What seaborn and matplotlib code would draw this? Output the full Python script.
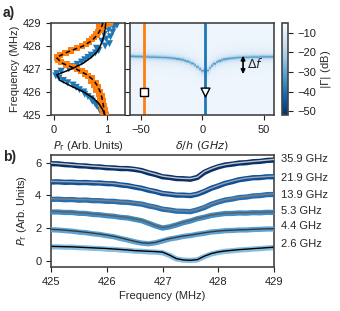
import numpy as np
import pandas as pd
import matplotlib
matplotlib.use("Agg")
import matplotlib.pyplot as plt
import seaborn as sns

# ---------------- data: panel a (left) ----------------
freq_a = [425.0, 425.1, 425.2, 425.3, 425.4, 425.5, 425.6, 425.7, 425.8, 425.9,
          426.0, 426.1, 426.2, 426.3, 426.4, 426.5, 426.6, 426.7, 426.8, 426.9,
          427.0, 427.1, 427.2, 427.3, 427.4, 427.5, 427.6, 427.7, 427.8, 427.9,
          428.0, 428.1, 428.2, 428.3, 428.4, 428.5, 428.6, 428.7, 428.8, 428.9, 429.0]
orange_data = [0.97, 0.93, 0.96, 0.90, 0.94, 0.88, 0.91, 0.86, 0.89, 0.84,
               0.86, 0.80, 0.83, 0.76, 0.78, 0.70, 0.72, 0.64, 0.58, 0.52,
               0.44, 0.36, 0.24, 0.14, 0.08, 0.07, 0.12, 0.22, 0.33, 0.44,
               0.53, 0.60, 0.66, 0.72, 0.75, 0.80, 0.82, 0.88, 0.85, 0.95, 1.05]
blue_data = [0.96, 0.90, 0.86, 0.88, 0.80, 0.77, 0.72, 0.70, 0.64, 0.58,
             0.56, 0.48, 0.42, 0.36, 0.26, 0.18, 0.10, 0.04, 0.06, 0.14,
             0.28, 0.36, 0.44, 0.52, 0.58, 0.64, 0.70, 0.78, 0.84, 0.80,
             0.96, 1.04, 0.90, 0.98, 1.06, 0.94, 1.10, 1.02, 1.12, 1.18, 1.08]

freq_fit = [425.0, 425.25, 425.5, 425.75, 426.0, 426.25, 426.5, 426.75, 427.0,
            427.25, 427.5, 427.75, 428.0, 428.25, 428.5, 428.75, 429.0]
orange_fit = [0.95, 0.94, 0.92, 0.90, 0.87, 0.82, 0.75, 0.62, 0.42,
              0.16, 0.05, 0.27, 0.55, 0.72, 0.82, 0.88, 0.92]
blue_fit = [0.95, 0.91, 0.84, 0.73, 0.56, 0.33, 0.12, 0.06, 0.33,
            0.55, 0.70, 0.81, 0.87, 0.91, 0.94, 0.96, 0.97]

# ---------------- data: panel a (map) ----------------
detuning = np.arange(-58, 59, 2)
f_res = [427.55, 427.55, 427.54, 427.54, 427.54, 427.53, 427.53, 427.53, 427.52, 427.52,
         427.52, 427.51, 427.51, 427.50,
         427.50, 427.49, 427.48, 427.47, 427.46, 427.44, 427.42, 427.40, 427.37, 427.33,
         427.29, 427.24, 427.17, 427.09, 427.00, 426.92, 426.86, 426.93, 427.05, 427.15,
         427.23, 427.30, 427.35, 427.39, 427.42, 427.44, 427.46, 427.47, 427.48, 427.49,
         427.50,
         427.50, 427.51, 427.51, 427.51, 427.52, 427.52, 427.52, 427.52, 427.53, 427.53,
         427.53, 427.53, 427.53, 427.53]
bg_db = -7.0
line_depth_db = 22.0
line_width_mhz = 0.06
orange_det = -47
blue_det = 2.4
marker_freq = 426.0

# ---------------- data: panel b ----------------
freq_b = [425.0, 425.125, 425.25, 425.375, 425.5, 425.625, 425.75, 425.875,
          426.0, 426.125, 426.25, 426.375, 426.5, 426.625, 426.75, 426.875,
          427.0, 427.125, 427.25, 427.375, 427.5, 427.625, 427.75, 427.875,
          428.0, 428.125, 428.25, 428.375, 428.5, 428.625, 428.75, 428.875, 429.0]
drive_labels = ["2.6 GHz", "4.4 GHz", "5.3 GHz", "13.9 GHz", "21.9 GHz", "35.9 GHz"]
data_26 = [0.86, 0.86, 0.84, 0.84, 0.81, 0.80, 0.77, 0.76, 0.72, 0.71, 0.67, 0.65, 0.60, 0.59, 0.55, 0.54, 0.50,
           0.34, 0.12, 0.05, 0.03, 0.07, 0.26, 0.43, 0.52, 0.59, 0.62, 0.67, 0.69, 0.73, 0.75, 0.79, 0.81]
data_44 = [1.90, 1.89, 1.85, 1.82, 1.76, 1.73, 1.66, 1.62, 1.54, 1.48, 1.37, 1.28, 1.17, 1.09, 1.05, 1.11, 1.22,
           1.34, 1.41, 1.50, 1.55, 1.63, 1.69, 1.77, 1.80, 1.85, 1.86, 1.89, 1.89, 1.92, 1.93, 1.95, 1.95]
data_53 = [2.99, 2.99, 2.96, 2.96, 2.91, 2.90, 2.84, 2.82, 2.76, 2.73, 2.66, 2.63, 2.54, 2.46, 2.30, 2.14, 2.01,
           2.08, 2.20, 2.34, 2.44, 2.58, 2.67, 2.78, 2.84, 2.90, 2.90, 2.93, 2.92, 2.95, 2.94, 2.97, 2.96]
data_139 = [3.76, 3.77, 3.74, 3.75, 3.71, 3.72, 3.68, 3.68, 3.64, 3.64, 3.59, 3.58, 3.52, 3.47, 3.36, 3.28, 3.16,
            3.11, 3.04, 3.03, 3.01, 3.12, 3.26, 3.46, 3.60, 3.72, 3.78, 3.87, 3.90, 3.97, 3.99, 4.05, 4.06]
data_219 = [4.82, 4.83, 4.80, 4.81, 4.78, 4.79, 4.76, 4.76, 4.72, 4.71, 4.64, 4.60, 4.51, 4.44, 4.32, 4.24, 4.12,
            4.08, 4.02, 4.02, 3.99, 4.08, 4.24, 4.44, 4.58, 4.74, 4.84, 4.96, 5.02, 5.08, 5.09, 5.14, 5.14]
data_359 = [5.94, 5.93, 5.88, 5.86, 5.81, 5.80, 5.75, 5.74, 5.69, 5.68, 5.64, 5.64, 5.59, 5.52, 5.38, 5.28, 5.14,
            5.10, 5.03, 5.02, 4.99, 5.10, 5.41, 5.60, 5.75, 5.86, 5.91, 5.98, 6.00, 6.06, 6.08, 6.14, 6.16]
fit_26 = [0.89, 0.88, 0.87, 0.86, 0.84, 0.82, 0.80, 0.78, 0.76, 0.73, 0.70, 0.67, 0.63, 0.61, 0.59, 0.57, 0.54,
          0.36, 0.14, 0.06, 0.04, 0.08, 0.29, 0.45, 0.55, 0.61, 0.65, 0.69, 0.72, 0.75, 0.78, 0.81, 0.84]
fit_44 = [1.93, 1.91, 1.88, 1.84, 1.80, 1.75, 1.70, 1.64, 1.58, 1.50, 1.41, 1.30, 1.20, 1.11, 1.08, 1.13, 1.26,
          1.36, 1.45, 1.52, 1.58, 1.65, 1.72, 1.78, 1.83, 1.86, 1.88, 1.90, 1.91, 1.93, 1.95, 1.96, 1.97]
fit_53 = [3.03, 3.02, 3.00, 2.98, 2.95, 2.92, 2.88, 2.84, 2.80, 2.75, 2.70, 2.65, 2.58, 2.48, 2.34, 2.16, 2.04,
          2.10, 2.24, 2.36, 2.48, 2.60, 2.71, 2.80, 2.87, 2.91, 2.93, 2.94, 2.95, 2.96, 2.97, 2.98, 2.99]
fit_139 = [3.80, 3.79, 3.78, 3.77, 3.75, 3.74, 3.72, 3.70, 3.68, 3.66, 3.63, 3.60, 3.56, 3.49, 3.40, 3.30, 3.20,
           3.13, 3.08, 3.05, 3.05, 3.14, 3.30, 3.48, 3.64, 3.74, 3.82, 3.89, 3.94, 3.99, 4.03, 4.07, 4.10]
fit_219 = [4.86, 4.85, 4.84, 4.83, 4.82, 4.81, 4.80, 4.78, 4.76, 4.73, 4.68, 4.62, 4.55, 4.46, 4.36, 4.26, 4.16,
           4.10, 4.06, 4.04, 4.03, 4.10, 4.28, 4.46, 4.62, 4.76, 4.88, 4.98, 5.06, 5.10, 5.13, 5.16, 5.18]
fit_359 = [5.98, 5.95, 5.92, 5.88, 5.85, 5.82, 5.79, 5.76, 5.73, 5.70, 5.68, 5.66, 5.63, 5.54, 5.42, 5.30, 5.18,
           5.12, 5.07, 5.04, 5.03, 5.12, 5.45, 5.64, 5.79, 5.88, 5.95, 6.00, 6.04, 6.08, 6.12, 6.16, 6.20]
label_y = [1.04, 2.13, 3.07, 4.02, 5.08, 6.22]

data_b = [data_26, data_44, data_53, data_139, data_219, data_359]
fit_b = [fit_26, fit_44, fit_53, fit_139, fit_219, fit_359]
data_colors = ["#86bde0", "#5ca3d4", "#3f8cc6", "#2570b4", "#0d519c", "#08306b"]
fit_colors = ["#000000", "#3a3a3a", "#5e5e5e", "#808080", "#a2a2a2", "#c4c4c4"]

# ---------------- style ----------------
sns.set_style("ticks")
plt.rcParams["font.family"] = ["Liberation Sans", "DejaVu Sans"]
plt.rcParams["font.size"] = 8
plt.rcParams["axes.edgecolor"] = "#444444"
plt.rcParams["axes.linewidth"] = 1.2
plt.rcParams["xtick.major.size"] = 3.5
plt.rcParams["ytick.major.size"] = 3.5
plt.rcParams["xtick.color"] = "#222222"
plt.rcParams["ytick.color"] = "#222222"
plt.rcParams["mathtext.fontset"] = "dejavusans"

W, H = 340, 311
fig = plt.figure(figsize=(W / 100, H / 100), dpi=100)

def rect(x0, y0, x1, y1):
    return [x0 / W, 1 - y1 / H, (x1 - x0) / W, (y1 - y0) / H]

ax1 = fig.add_axes(rect(51, 23, 125, 115))
ax2 = fig.add_axes(rect(130, 23, 274, 115))
cax = fig.add_axes(rect(282, 23, 288, 115))
axb = fig.add_axes(rect(51, 155, 274, 267))

# ---- panel a left ----
dfa = pd.DataFrame({"f": freq_a, "orange": orange_data, "blue": blue_data})
dff = pd.DataFrame({"f": freq_fit, "orange": orange_fit, "blue": blue_fit})
sns.scatterplot(data=dfa, x="blue", y="f", ax=ax1, marker="v", s=26, color="#1f77b4",
                edgecolor="none", zorder=2)
sns.scatterplot(data=dfa, x="orange", y="f", ax=ax1, marker="s", s=20, color="#ff7f0e",
                edgecolor="none", zorder=3)
ax1.plot(dff["blue"], dff["f"], color="black", lw=1.1, zorder=4)
ax1.plot(dff["orange"], dff["f"], color="black", lw=1.1, ls=(0, (3, 2)), zorder=4)
ax1.set_xlim(-0.05, 1.33)
ax1.set_ylim(425, 429)
ax1.set_xticks([0, 1])
ax1.set_yticks([425, 426, 427, 428, 429])
ax1.set_xlabel(r"$P_\mathrm{r}$ (Arb. Units)", labelpad=3)
ax1.set_ylabel("Frequency (MHz)", labelpad=2)

# ---- panel a map ----
fgrid = np.linspace(425, 429, 241)
Z = np.empty((len(fgrid), len(detuning)))
for j, fr in enumerate(f_res):
    d = (fgrid - fr) / line_width_mhz
    halo = (fgrid - fr) / 0.25
    Z[:, j] = bg_db - line_depth_db / (1 + d ** 2) - 3.0 / (1 + halo ** 2)
xe = np.concatenate([detuning - 1, [detuning[-1] + 1]])
fe = np.concatenate([fgrid - 0.00833, [fgrid[-1] + 0.00833]])
mesh = ax2.pcolormesh(xe, fe, Z, cmap="Blues_r", vmin=-52, vmax=-5, shading="flat",
                      rasterized=True)
ax2.axvline(orange_det, color="#ff7f0e", lw=2)
ax2.axvline(blue_det, color="#1f77b4", lw=2)
ax2.scatter([orange_det], [marker_freq], marker="s", s=30, facecolor="white",
            edgecolor="black", lw=1, zorder=5)
ax2.scatter([blue_det], [marker_freq], marker="v", s=40, facecolor="white",
            edgecolor="black", lw=1, zorder=5)
ax2.annotate("", xy=(33, 426.78), xytext=(33, 427.58),
             arrowprops=dict(arrowstyle="<|-|>", color="black", lw=1.2,
                             mutation_scale=6, shrinkA=0, shrinkB=0))
ax2.text(36, 427.2, r"$\Delta f$", fontsize=9, va="center", ha="left")
ax2.set_xlim(-58.7, 58.1)
ax2.set_ylim(425, 429)
ax2.set_xticks([-50, 0, 50])
ax2.set_yticks([425, 426, 427, 428, 429])
ax2.set_yticklabels([])
ax2.set_xlabel(r"$\delta/h\ (GHz)$", labelpad=3)
cb = fig.colorbar(mesh, cax=cax, ticks=[-10, -20, -30, -40, -50])
cb.outline.set_edgecolor("#444444")
cb.outline.set_linewidth(1.2)
cb.set_label(r"$|\Gamma|$ (dB)", labelpad=2)

# ---- panel b ----
for k in range(len(drive_labels)):
    dfb = pd.DataFrame({"f": freq_b, "data": data_b[k], "fit": fit_b[k]})
    sns.lineplot(data=dfb, x="f", y="data", ax=axb, color=data_colors[k], lw=3.8,
                 zorder=2 + k)
    sns.lineplot(data=dfb, x="f", y="fit", ax=axb, color=fit_colors[k], lw=1.0,
                 zorder=2.5 + k)
    axb.text(429.12, label_y[k], drive_labels[k], ha="left", va="center",
             fontsize=8, clip_on=False)
axb.set_xlim(425, 429)
axb.set_ylim(-0.37, 6.47)
axb.set_xticks([425, 426, 427, 428, 429])
axb.set_yticks([0, 2, 4, 6])
axb.set_xlabel("Frequency (MHz)", labelpad=3)
axb.set_ylabel(r"$P_\mathrm{r}$ (Arb. Units)", labelpad=4)

fig.text(3 / W, 1 - 13 / H, "a)", fontsize=10, fontweight="bold", va="center")
fig.text(3 / W, 1 - 157 / H, "b)", fontsize=10, fontweight="bold", va="center")

fig.savefig("out.png", dpi=100)
